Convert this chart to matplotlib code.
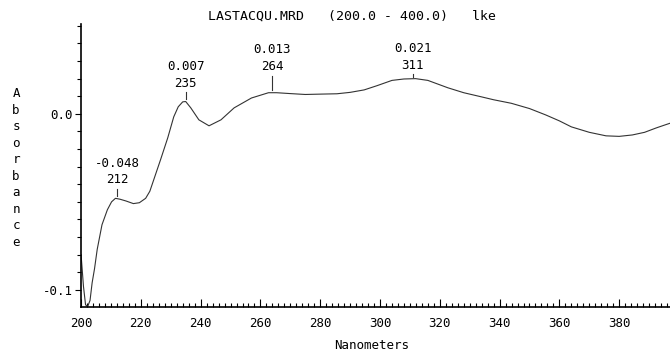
import matplotlib
matplotlib.use('Agg')
import matplotlib.pyplot as plt
from matplotlib.ticker import MultipleLocator

# spectrum
wavelength = [200.0, 200.8, 201.5, 202.2, 203.0, 203.7, 204.5, 205.4, 207.0, 208.8, 210.2,
              211.5, 213.0, 215.0, 217.5, 219.5, 221.6, 223.0, 224.3, 226.6, 229.0,
              231.0, 232.5, 234.0, 235.0, 236.7, 239.4, 242.8, 246.8, 251.2, 257.0,
              262.7, 265.4, 270.0, 275.0, 280.0, 285.6, 290.0, 294.7, 299.0, 304.0,
              308.0, 311.9, 316.0, 322.7, 328.0, 333.8, 338.0, 343.9, 350.0, 355.4,
              360.0, 364.0, 370.0, 375.6, 380.0, 384.4, 388.5, 392.4, 395.5, 398.5]
absorbance = [-0.080, -0.098, -0.1085, -0.1095, -0.106, -0.096, -0.088, -0.077, -0.063, -0.0545, -0.050,
              -0.048, -0.0485, -0.0495, -0.051, -0.0505, -0.048, -0.044, -0.0375, -0.026, -0.0136,
              -0.0017, 0.004, 0.0068, 0.007, 0.0034, -0.0034, -0.0068, -0.0034, 0.0034, 0.009,
              0.012, 0.012, 0.0115, 0.011, 0.0112, 0.0114, 0.0122, 0.0136, 0.016, 0.019,
              0.0198, 0.020, 0.019, 0.0148, 0.012, 0.0097, 0.008, 0.006, 0.003, -0.0006,
              -0.004, -0.0074, -0.0105, -0.0125, -0.0128, -0.012, -0.0105, -0.008, -0.0062, -0.0045]

peak_nm = [212, 235, 264, 311]
peak_val = ['-0.048', '0.007', '0.013', '0.021']
peak_y = [-0.048, 0.007, 0.0125, 0.020]
marker_len = [0.004, 0.004, 0.008, 0.0012]

font = 'DejaVu Sans Mono'
fs = 9

fig = plt.figure(figsize=(6.7, 3.54), dpi=100)
ax = fig.add_axes([0.121, 0.133, 0.879, 0.799])
ax.plot(wavelength, absorbance, color='#333333', lw=0.8)

ax.set_xlim(200, 397)
ax.set_ylim(-0.1097, 0.051)
for s in ['top', 'right']:
    ax.spines[s].set_visible(False)
ax.spines['left'].set_linewidth(1.2)
ax.spines['bottom'].set_linewidth(1.2)

ax.xaxis.set_major_locator(MultipleLocator(20))
ax.xaxis.set_minor_locator(MultipleLocator(2))
ax.yaxis.set_major_locator(MultipleLocator(0.1))
ax.yaxis.set_minor_locator(MultipleLocator(0.01))
ax.tick_params(axis='x', which='major', direction='in', length=6, width=0.8, pad=7)
ax.tick_params(axis='x', which='minor', direction='in', length=3, width=0.8)
ax.tick_params(axis='y', which='major', direction='out', length=4, width=0.8, pad=2)
ax.tick_params(axis='y', which='minor', direction='out', length=3, width=0.8)
ax.set_xticks(range(200, 400, 20))
ax.set_xticklabels([str(v) for v in range(200, 400, 20)], family=font, fontsize=fs)
ax.set_yticks([-0.1, 0.0])
ax.set_yticklabels(['-0.1', '0.0'], family=font, fontsize=fs)

for nm, lab, yv, ml in zip(peak_nm, peak_val, peak_y, marker_len):
    top = yv + 0.0012 + ml
    ax.plot([nm, nm], [yv + 0.0012, top], color='#333333', lw=0.8)
    ax.annotate(lab + '\n' + str(nm), (nm, top), xytext=(0, 2),
                textcoords='offset points', ha='center', va='bottom',
                family=font, fontsize=fs, linespacing=1.35)

fig.text(0.525, 0.955, 'LASTACQU.MRD   (200.0 - 400.0)   lke', ha='center', va='center',
         family=font, fontsize=9.5)
fig.text(0.555, 0.025, 'Nanometers', ha='center', va='center', family=font, fontsize=fs)
fig.text(0.024, 0.525, '\n'.join('Absorbance'), ha='center', va='center',
         family=font, fontsize=fs, linespacing=1.35)

fig.savefig('out.png', dpi=100)
